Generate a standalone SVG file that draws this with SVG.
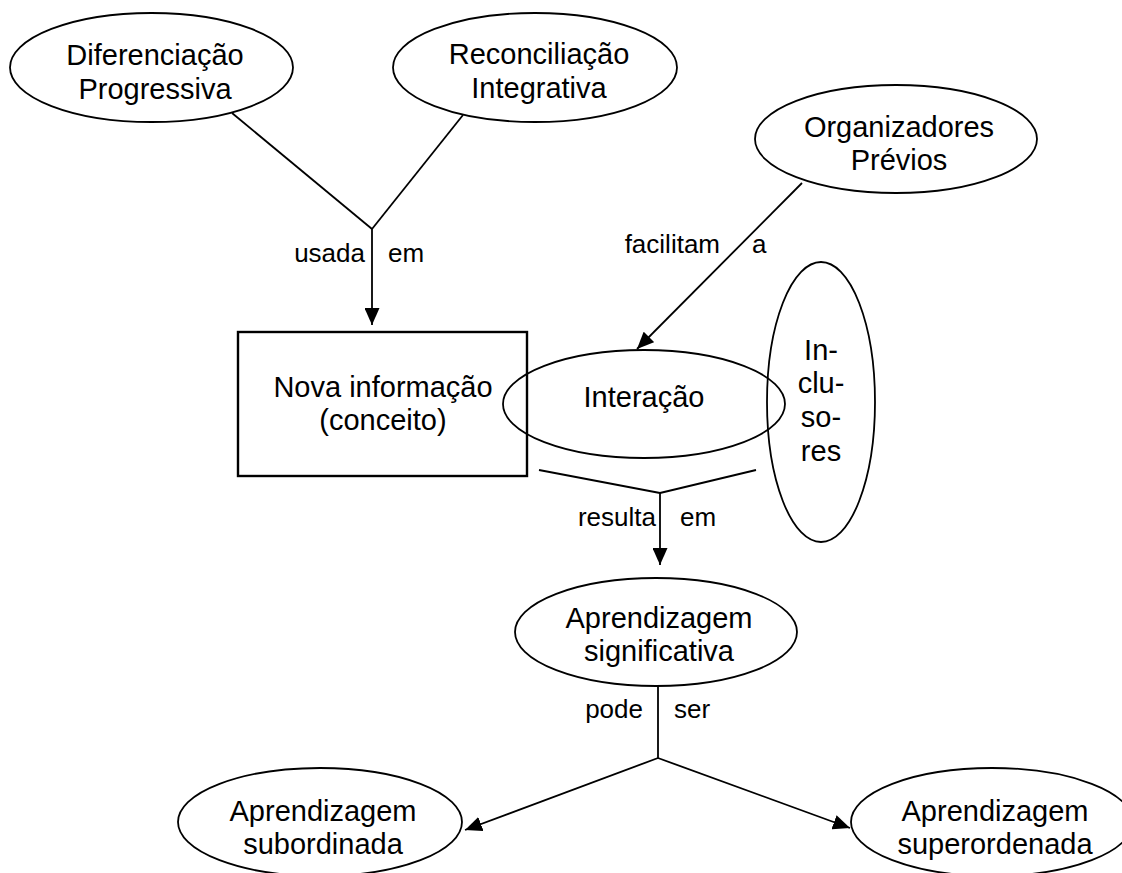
<svg xmlns="http://www.w3.org/2000/svg" width="1122" height="873" viewBox="0 0 1122 873">
  <style>
    .shape { fill: none; stroke: #000; stroke-width: 1.8; }
    .box { fill: none; stroke: #000; stroke-width: 2.4; }
    .node { font-family: "Liberation Sans", Arial, sans-serif; font-size: 29px; fill: #000; text-anchor: middle; }
    .lbl { font-family: "Liberation Sans", Arial, sans-serif; font-size: 26px; fill: #000; }
    .conn { fill: none; stroke: #000; stroke-width: 1.8; }
  </style>
  <defs>
    <marker id="arrow" viewBox="0 0 17 15" markerWidth="17" markerHeight="15" refX="17" refY="7.5" orient="auto" markerUnits="userSpaceOnUse">
      <path d="M0,0 L17,7.5 L0,15 z" fill="#000"/>
    </marker>
  </defs>
  <rect x="0" y="0" width="1122" height="873" fill="#fff"/>

  <g id="connectors">
    <line class="conn" x1="232" y1="113" x2="372" y2="229"/>
    <line class="conn" x1="463" y1="115" x2="372" y2="229"/>
    <line class="conn" x1="372" y1="229" x2="372" y2="325" marker-end="url(#arrow)"/>
    <line class="conn" x1="802" y1="183" x2="637" y2="349" marker-end="url(#arrow)"/>
    <line class="conn" x1="539" y1="470" x2="660" y2="493"/>
    <line class="conn" x1="756" y1="470" x2="660" y2="493"/>
    <line class="conn" x1="660" y1="493" x2="660" y2="565" marker-end="url(#arrow)"/>
    <line class="conn" x1="658" y1="686" x2="658" y2="758"/>
    <line class="conn" x1="658" y1="758" x2="465" y2="830" marker-end="url(#arrow)"/>
    <line class="conn" x1="658" y1="758" x2="850" y2="828" marker-end="url(#arrow)"/>
    <text class="lbl" x="365" y="262" text-anchor="end">usada</text>
    <text class="lbl" x="388" y="262">em</text>
    <text class="lbl" x="720" y="253" text-anchor="end">facilitam</text>
    <text class="lbl" x="752" y="253">a</text>
    <text class="lbl" x="656" y="526" text-anchor="end">resulta</text>
    <text class="lbl" x="680" y="526">em</text>
    <text class="lbl" x="643" y="718" text-anchor="end">pode</text>
    <text class="lbl" x="674" y="718">ser</text>
  </g>

  <g id="diferenciacao">
    <ellipse class="shape" cx="151.5" cy="67.5" rx="141.5" ry="54.5"/>
    <text class="node" x="155" y="65">Diferenciação</text>
    <text class="node" x="155" y="99">Progressiva</text>
  </g>
  <g id="reconciliacao">
    <ellipse class="shape" cx="535" cy="67.5" rx="142" ry="54.5"/>
    <text class="node" x="539" y="64">Reconciliação</text>
    <text class="node" x="539" y="98">Integrativa</text>
  </g>
  <g id="organizadores">
    <ellipse class="shape" cx="896" cy="139" rx="141" ry="54"/>
    <text class="node" x="899" y="137">Organizadores</text>
    <text class="node" x="899" y="170">Prévios</text>
  </g>
  <g id="nova-informacao">
    <rect class="box" x="238" y="332" width="289" height="144"/>
    <text class="node" x="383" y="397">Nova informação</text>
    <text class="node" x="383" y="430">(conceito)</text>
  </g>
  <g id="interacao">
    <ellipse class="shape" cx="644" cy="404" rx="141" ry="54"/>
    <text class="node" x="644" y="407">Interação</text>
  </g>
  <g id="inclusores">
    <ellipse class="shape" cx="821" cy="402" rx="54" ry="140"/>
    <text class="node" x="821" y="360">In-</text>
    <text class="node" x="821" y="393">clu-</text>
    <text class="node" x="821" y="427">so-</text>
    <text class="node" x="821" y="461">res</text>
  </g>
  <g id="aprendizagem-significativa">
    <ellipse class="shape" cx="656" cy="632" rx="141" ry="54"/>
    <text class="node" x="659" y="628">Aprendizagem</text>
    <text class="node" x="659" y="661">significativa</text>
  </g>
  <g id="aprendizagem-subordinada">
    <ellipse class="shape" cx="320" cy="822" rx="142" ry="54"/>
    <text class="node" x="323" y="821">Aprendizagem</text>
    <text class="node" x="323" y="854">subordinada</text>
  </g>
  <g id="aprendizagem-superordenada">
    <ellipse class="shape" cx="992" cy="822" rx="141" ry="54"/>
    <text class="node" x="995" y="821">Aprendizagem</text>
    <text class="node" x="995" y="854">superordenada</text>
  </g>
</svg>
